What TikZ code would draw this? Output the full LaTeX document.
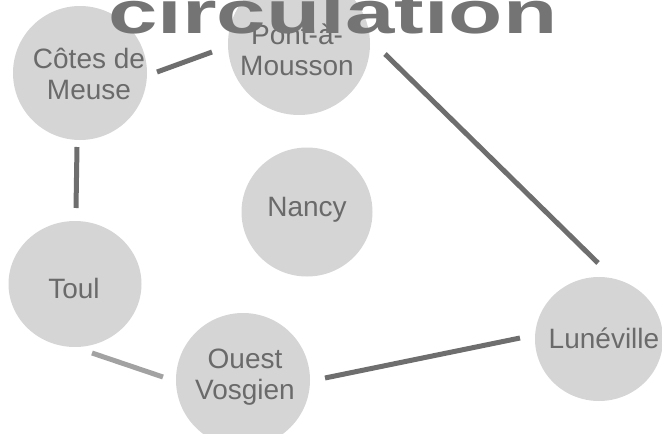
\documentclass[tikz,border=0pt]{standalone}
\usepackage{fontspec}
\setmainfont{Liberation Sans}
\usetikzlibrary{shapes.geometric}
\definecolor{fillgray}{HTML}{D5D5D5}
\definecolor{linegray}{HTML}{6E6E6E}
\definecolor{lightline}{HTML}{A2A2A2}
\definecolor{textgray}{HTML}{6A6A6A}
\definecolor{titlegray}{HTML}{747474}
\begin{document}
\begin{tikzpicture}[x=1pt,y=-1pt,
  city/.style={ellipse, fill=fillgray, draw=none, inner sep=0pt},
  lbl/.style={align=center, inner sep=0pt, text=textgray, font=\fontsize{28}{31}\selectfont},
  link/.style={draw=linegray, line width=5pt},
  lightlink/.style={draw=lightline, line width=5pt}
]
\useasboundingbox (0,0) rectangle (662,434);
\clip (0,0) rectangle (662,434);

% cities
\node[city, minimum width=134pt, minimum height=134pt] (cm) at (80,73) {};
\node[city, minimum width=142pt, minimum height=142pt] (pm) at (299,44) {};
\node[city, minimum width=131pt, minimum height=129pt] (nc) at (307,212) {};
\node[city, minimum width=133pt, minimum height=126pt] (tl) at (75,284) {};
\node[city, minimum width=134pt, minimum height=134pt] (ov) at (243,380) {};
\node[city, minimum width=128pt, minimum height=124pt] (lu) at (599,339) {};

% labels
\node[lbl] (cmt) at (89,74) {Côtes de\\Meuse};
\node[lbl] (pmt) at (297,50) {Pont-à-\\Mousson};
\node[lbl] (nct) at (307,210) {Nancy};
\node[lbl] (tlt) at (74,288) {Toul};
\node[lbl] (ovt) at (245,377) {Ouest\\Vosgien};
\node[lbl] (lut) at (604,338) {Lunéville};

% connectors
\draw[link] ([shift={(77,-1)}]cm.center) -- ([shift={(-87,8)}]pm.center);
\draw[link] ([shift={(86,10)}]pm.center) -- ([shift={(-1,-76)}]lu.center);
\draw[link] ([shift={(-3,74)}]cm.center) -- ([shift={(1,-76)}]tl.center);
\draw[lightlink] ([shift={(17,69)}]tl.center) -- ([shift={(-80,-3)}]ov.center);
\draw[link] ([shift={(82,-2)}]ov.center) -- ([shift={(-79,-1)}]lu.center);

% title
\node[anchor=base west, inner sep=0pt, text=titlegray,
      font=\fontsize{60}{60}\selectfont\bfseries] (title) at (108,33)
      {\scalebox{1.48}[1]{circulation}};
\end{tikzpicture}
\end{document}
